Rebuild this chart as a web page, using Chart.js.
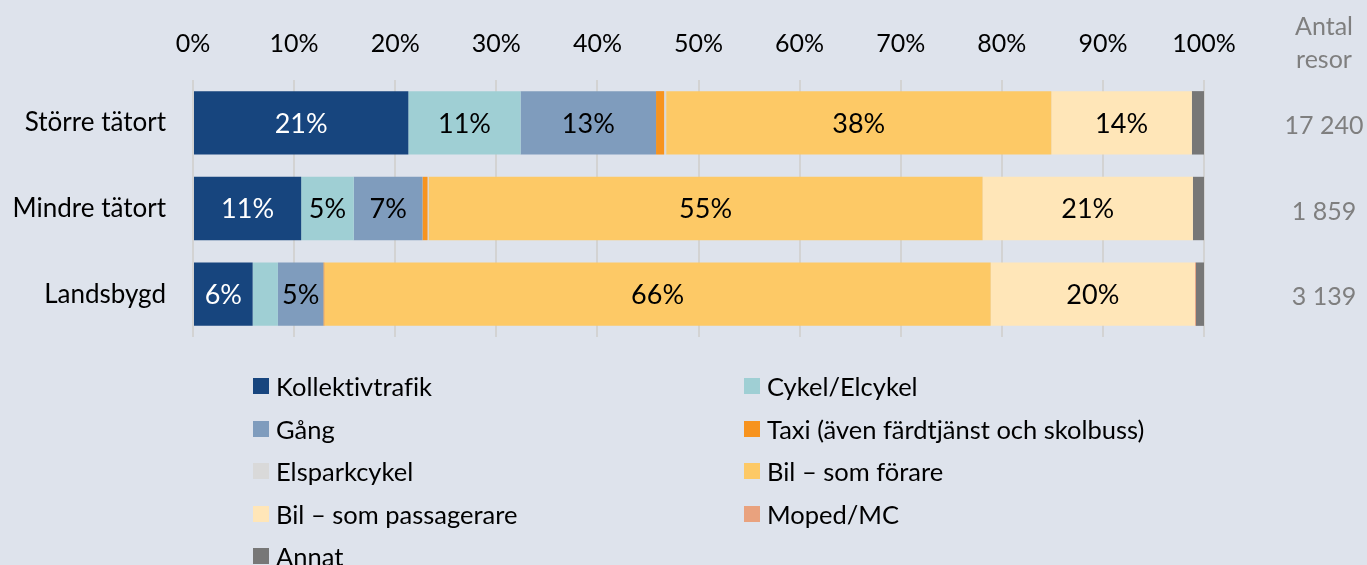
<!DOCTYPE html>
<html lang="sv">
<head>
<meta charset="utf-8">
<script src="https://cdn.jsdelivr.net/npm/chart.js@4/dist/chart.umd.min.js"></script>
<style>
  html, body { margin: 0; padding: 0; background: #dee3ec; }
  #wrap { position: relative; width: 1367px; height: 565px; overflow: hidden; font-family: Lato, "Open Sans", sans-serif; }
  #chart { position: absolute; left: 0; top: 0; }
  .lg { position: absolute; display: flex; align-items: center; font-size: 25.5px; color: #000; white-space: nowrap; font-variant-ligatures: none; font-feature-settings: "liga" 0, "clig" 0; }
  .lg i { display: inline-block; width: 16px; height: 16px; margin-right: 7px; flex: none; }
</style>
</head>
<body>
<div id="wrap">
  <canvas id="chart" width="1367" height="565"></canvas>
</div>
<script>
// Områdestyp och antal resor per område
const categories = ['Större tätort', 'Mindre tätort', 'Landsbygd'];
const tripCounts = ['17 240', '1 859', '3 139'];
const tripHeader = ['Antal', 'resor'];
const xTicks = [0, 10, 20, 30, 40, 50, 60, 70, 80, 90, 100];

// Färdmedelsfördelning i procent
const kollektivtrafik = [21.3, 10.7, 5.9];
const cykel          = [11.1, 5.2, 2.5];
const gang           = [13.4, 6.8, 4.5];
const taxi           = [0.8, 0.5, 0.1];
const elsparkcykel   = [0.2, 0.1, 0.0];
const bilForare      = [38.1, 54.8, 65.9];
const bilPassagerare = [13.9, 20.8, 20.2];
const moped          = [0.0, 0.0, 0.1];
const annat          = [1.2, 1.1, 0.8];

const seriesNames = ['Kollektivtrafik', 'Cykel/Elcykel', 'Gång', 'Taxi (även färdtjänst och skolbuss)',
  'Elsparkcykel', 'Bil – som förare', 'Bil – som passagerare', 'Moped/MC', 'Annat'];
const seriesValues = [kollektivtrafik, cykel, gang, taxi, elsparkcykel, bilForare, bilPassagerare, moped, annat];
const seriesColors = ['#17457e', '#9fcfd4', '#7f9cbd', '#f7931e', '#d9d9d9', '#fdc966', '#ffe6b8', '#e9a27e', '#777777'];

const FONT = 'Lato, "Open Sans", sans-serif';

const datasets = seriesNames.map((name, i) => ({
  label: name,
  data: seriesValues[i],
  backgroundColor: seriesColors[i],
  borderWidth: 0,
  barPercentage: 0.74,
  categoryPercentage: 1.0
}));

// Procentetiketter i staplarna
const segmentLabels = {
  id: 'segmentLabels',
  afterDatasetsDraw(chart) {
    const ctx = chart.ctx;
    ctx.save();
    ctx.font = '27px ' + FONT;
    ctx.textAlign = 'center';
    ctx.textBaseline = 'middle';
    chart.data.datasets.forEach((ds, di) => {
      const meta = chart.getDatasetMeta(di);
      meta.data.forEach((bar, j) => {
        const v = ds.data[j];
        if (v < 4) return;
        ctx.fillStyle = di === 0 ? '#ffffff' : '#000000';
        ctx.fillText(Math.round(v) + '%', (bar.x + bar.base) / 2, bar.y + 1);
      });
    });
    ctx.restore();
  }
};

// Kolumn med antal resor till höger
const tripColumn = {
  id: 'tripColumn',
  afterDraw(chart) {
    const ctx = chart.ctx;
    const y = chart.scales.y;
    const cx = 1324;
    ctx.save();
    ctx.font = '25px ' + FONT;
    ctx.fillStyle = '#7f7f7f';
    ctx.textAlign = 'center';
    ctx.textBaseline = 'middle';
    ctx.fillText(tripHeader[0], cx, 27);
    ctx.fillText(tripHeader[1], cx, 60);
    tripCounts.forEach((t, i) => ctx.fillText(t, cx, y.getPixelForValue(i) + 3));
    ctx.restore();
  }
};

new Chart(document.getElementById('chart'), {
  type: 'bar',
  data: { labels: categories, datasets },
  options: {
    indexAxis: 'y',
    responsive: false,
    animation: false,
    layout: { padding: { top: 0, right: 163, bottom: 228, left: 0 } },
    plugins: { legend: { display: false }, tooltip: { enabled: false } },
    scales: {
      x: {
        position: 'top',
        stacked: true,
        min: 0,
        max: 100,
        afterBuildTicks: (s) => { s.ticks = xTicks.map(v => ({ value: v })); },
        afterFit: (s) => { s.height = 80; },
        ticks: { callback: (v) => v + '%', color: '#000', font: { family: FONT, size: 25 }, padding: 21, maxRotation: 0 },
        grid: { color: '#d3d3d3', lineWidth: 2, drawTicks: false },
        border: { display: false }
      },
      y: {
        stacked: true,
        afterFit: (s) => { s.width = 193; },
        ticks: { color: '#000', font: { family: FONT, size: 26 }, padding: 27 },
        grid: { display: false, drawTicks: false },
        border: { display: false }
      }
    }
  },
  plugins: [segmentLabels, tripColumn]
});

// Förklaring i två kolumner under diagrammet
const wrap = document.getElementById('wrap');
const colX = [253, 744];
const rowY = [386, 429, 471, 514, 556];
seriesNames.forEach((name, i) => {
  const d = document.createElement('div');
  d.className = 'lg';
  d.style.left = colX[i % 2] + 'px';
  d.style.top = (rowY[Math.floor(i / 2)] - 16) + 'px';
  d.style.height = '32px';
  const sw = document.createElement('i');
  sw.style.background = seriesColors[i];
  d.appendChild(sw);
  d.appendChild(document.createTextNode(name));
  wrap.appendChild(d);
});
</script>
</body>
</html>
